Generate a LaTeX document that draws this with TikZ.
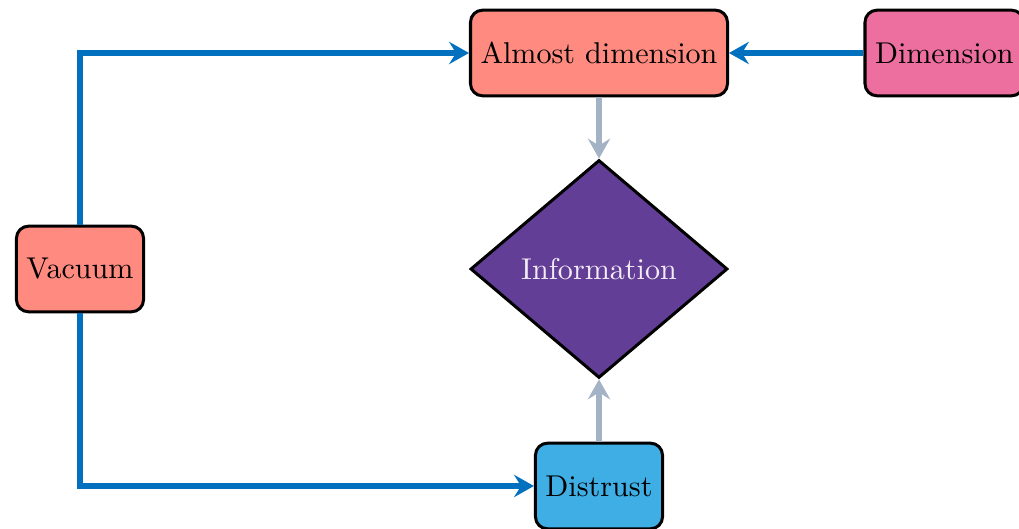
\documentclass[tikz,border=0pt]{standalone}
\usetikzlibrary{shapes.geometric,arrows.meta}

\definecolor{salmonfill}{RGB}{254,138,128}
\definecolor{pinkfill}{RGB}{237,111,160}
\definecolor{skyfill}{RGB}{62,174,228}
\definecolor{purplefill}{RGB}{99,62,151}
\definecolor{flowblue}{RGB}{0,112,191}
\definecolor{flowgrey}{RGB}{164,178,197}
\definecolor{paletext}{RGB}{242,236,247}

\tikzset{
  box/.style={draw=black, line width=1pt, rounded corners=4pt,
    minimum height=1cm, inner sep=0.3333em, font=\normalsize},
  decision/.style={diamond, draw=black, line width=1pt, fill=purplefill,
    minimum width=85.4pt, minimum height=72.4pt, inner sep=0pt,
    text=paletext},
  tip/.style={-{Stealth[length=6.6pt,width=7.4pt,inset=2.3pt]}},
  mainflow/.style={tip, draw=flowblue, line width=2pt},
  sideflow/.style={tip, draw=flowgrey, line width=2pt},
}

\begin{document}
\begin{tikzpicture}[x=0.33223pt, y=-0.33223pt]
  \clip (0,0) rectangle (1019,529);
  \useasboundingbox (0,0) rectangle (1019,529);

  % nodes
  \node[box, fill=salmonfill] (almost) at (599,53) {Almost dimension};
  \node[box, fill=pinkfill]   (dim)    at (944.3,53) {Dimension};
  \node[box, fill=salmonfill] (vac)    at (80,269) {Vacuum};
  \node[decision]             (info)   at (599,269) {Information};
  \node[box, fill=skyfill]    (dis)    at (599,486) {Distrust};

  % connectors
  \draw[mainflow] (vac.north) |- (almost.west);
  \draw[mainflow] (vac.south) |- (dis.west);
  \draw[mainflow] (dim.west) -- (almost.east);
  \draw[sideflow] (almost.south) -- (info.north);
  \draw[sideflow] (dis.north) -- (info.south);
\end{tikzpicture}
\end{document}
